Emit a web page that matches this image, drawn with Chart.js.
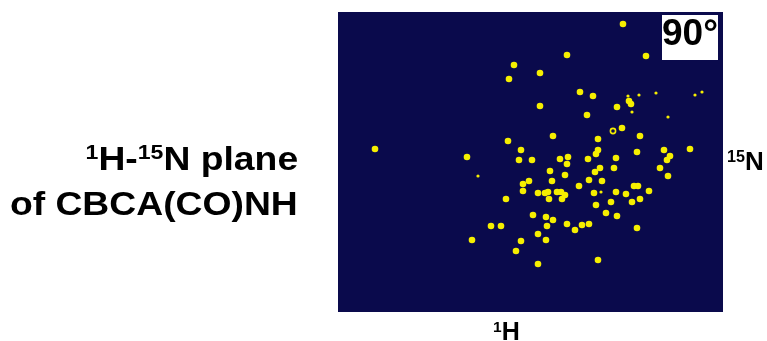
<!DOCTYPE html>
<html>
<head>
<meta charset="utf-8">
<script src="https://cdn.jsdelivr.net/npm/chart.js@4"></script>
<style>
  body { margin: 0; background: #fff; }
  #wrap { position: relative; width: 767px; height: 341px; overflow: hidden; }
  #plane { position: absolute; left: 0; top: 0; }
  .lbl { position: absolute; font-family: "Liberation Sans", Arial, sans-serif; font-weight: bold; color: #000; white-space: nowrap; line-height: 1; }
  .lbl sup { font-size: 0.62em; vertical-align: 0.52em; line-height: 0; }
  .side { right: 469px; font-size: 33px; transform: scaleX(1.13); transform-origin: right center; }
  #angle { left: 662px; top: 15px; width: 56px; height: 45px; background: #fff; font-size: 37px; }
</style>
</head>
<body>
<div id="wrap">
  <canvas id="plane" width="767" height="341"></canvas>
  <div class="lbl side" style="top:142px"><sup>1</sup>H-<sup>15</sup>N plane</div>
  <div class="lbl side" style="top:187px">of CBCA(CO)NH</div>
  <div class="lbl" style="left:493px; top:319px; font-size:25px"><sup>1</sup>H</div>
  <div class="lbl" style="left:727px; top:148px; font-size:26px"><sup>15</sup>N</div>
  <div class="lbl" id="angle"><span style="position:absolute; left:0; top:-1px">90°</span></div>
</div>
<script>
// peak positions (1H across, 15N down)
const peakH = [176, 171, 37, 170, 183, 129, 181, 285, 229, 308, 202, 242, 255, 291, 293, 279, 202, 249,
  284, 215, 260, 302, 260, 258, 299, 326, 332, 352, 278, 230, 250, 222, 194, 229, 329, 212, 227, 257,
  262, 276, 322, 330, 185, 191, 214, 251, 264, 241, 296, 300, 185, 200, 207, 210, 219, 223, 227, 256,
  278, 288, 311, 168, 211, 224, 258, 273, 294, 302, 195, 208, 215, 268, 279, 153, 163, 209, 229, 237,
  244, 251, 299, 134, 183, 200, 208, 178, 260, 200];
const peakN = [53, 67, 137, 129, 138, 145, 148, 12, 43, 44, 61, 80, 84, 89, 92, 95, 94, 103,
  116, 124, 127, 124, 138, 142, 140, 138, 144, 137, 146, 145, 147, 147, 148, 152, 148, 159, 163, 160,
  156, 156, 156, 164, 172, 169, 169, 168, 169, 174, 174, 174, 179, 181, 181, 180, 180, 180, 183, 181,
  180, 182, 179, 187, 187, 187, 193, 190, 190, 187, 203, 205, 208, 201, 204, 214, 214, 214, 212, 218,
  213, 212, 216, 228, 229, 222, 228, 239, 248, 252];
// weak peaks
const weakH = [290, 301, 318, 294, 330, 357, 364, 140, 263];
const weakN = [84, 83, 81, 100, 105, 83, 80, 164, 180];
// ring-shaped peak
const ringH = [275];
const ringN = [119];

const navy = "#0a0a4c";
const yellow = "#f6ef00";

const toPts = (xs, ys) => xs.map((x, i) => ({ x: x, y: ys[i] }));

const panelBg = {
  id: "panelBg",
  beforeDatasetsDraw(chart) {
    const a = chart.chartArea;
    const ctx = chart.ctx;
    ctx.save();
    ctx.fillStyle = navy;
    ctx.fillRect(a.left, a.top, a.right - a.left, a.bottom - a.top);
    ctx.restore();
  },
};

new Chart(document.getElementById("plane"), {
  type: "scatter",
  data: {
    datasets: [
      {
        data: toPts(peakH, peakN),
        pointRadius: 3.3,
        backgroundColor: yellow,
        borderWidth: 0,
      },
      {
        data: toPts(weakH, weakN),
        pointRadius: 1.6,
        backgroundColor: yellow,
        borderWidth: 0,
      },
      {
        data: toPts(ringH, ringN),
        pointRadius: 2.6,
        backgroundColor: navy,
        borderColor: yellow,
        borderWidth: 1.6,
      },
    ],
  },
  options: {
    responsive: false,
    animation: false,
    layout: { padding: { left: 338, top: 12, right: 44, bottom: 29 } },
    plugins: { legend: { display: false }, tooltip: { enabled: false } },
    scales: {
      x: { display: false, min: 0, max: 385 },
      y: { display: false, min: 0, max: 300, reverse: true },
    },
  },
  plugins: [panelBg],
});
</script>
</body>
</html>
